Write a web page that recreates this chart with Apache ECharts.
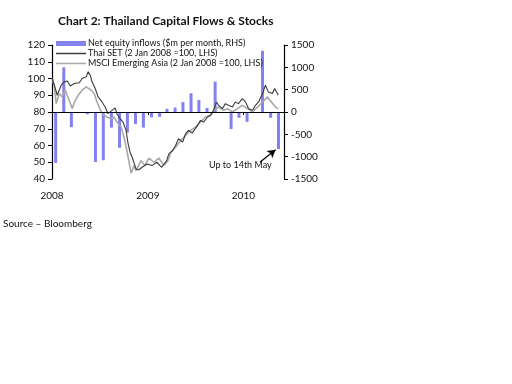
<!DOCTYPE html>
<html><head><meta charset="utf-8">
<script src="https://cdn.jsdelivr.net/npm/echarts@6/dist/echarts.min.js"></script>
<style>html,body{margin:0;padding:0;background:#fff}#c{width:512px;height:384px}</style>
</head><body><div id="c"></div>
<script>
// ---- data ----
var flowMonths = ['2008-01-15','2008-02-15','2008-03-15','2008-04-15','2008-05-15','2008-06-15','2008-07-15','2008-08-15','2008-09-15','2008-10-15','2008-11-15','2008-12-15',
  '2009-01-15','2009-02-15','2009-03-15','2009-04-15','2009-05-15','2009-06-15','2009-07-15','2009-08-15','2009-09-15','2009-10-15','2009-11-15','2009-12-15',
  '2010-01-15','2010-02-15','2010-03-15','2010-04-15','2010-05-15'];
var flowValues = [-1140,1000,-340,0,-50,-1120,-1080,-350,-800,-460,-270,-350,
  -120,-110,70,100,220,420,270,90,680,0,-380,-130,
  -220,0,1370,-130,-830];

var setDates = ['2008-01-02','2008-01-10','2008-01-21','2008-02-05','2008-02-17','2008-02-28','2008-03-11','2008-03-26','2008-04-14','2008-04-25','2008-05-11','2008-05-18','2008-05-26','2008-06-02','2008-06-14','2008-06-25','2008-07-10','2008-07-22','2008-08-02','2008-08-17','2008-08-29','2008-09-05','2008-09-17','2008-09-28','2008-10-10','2008-10-17','2008-10-25','2008-11-02','2008-11-17','2008-11-28','2008-12-10','2008-12-29',
  '2009-01-17','2009-02-04','2009-02-23','2009-03-14','2009-03-22','2009-04-06','2009-04-17','2009-04-28','2009-05-14','2009-05-25','2009-06-05','2009-06-20','2009-07-10','2009-07-21','2009-08-02','2009-08-17','2009-08-28','2009-09-09','2009-09-20','2009-09-28','2009-10-13','2009-10-24','2009-11-05','2009-11-20','2009-12-01','2009-12-13','2009-12-28',
  '2010-01-09','2010-01-21','2010-02-05','2010-02-16','2010-02-28','2010-03-15','2010-03-26','2010-04-06','2010-04-22','2010-04-30','2010-05-11','2010-05-14'];
var setValues = [100,96,90,96,98,98.5,95.5,97,97.5,100,101,104,102,98,94,89,86,83,79,81,82.5,79,76,74,69,61.5,56,53,46,45.5,47,49,
  48,50,47,51,55,57,60,64,62,67,69,67.5,72,75,74,77,78,81,86,84,82,85,84,83,86,85,88,
  86,82,81,84,86,91,96,92,91,94,91,90];

var msciDates = ['2008-01-02','2008-01-10','2008-01-17','2008-01-29','2008-02-09','2008-02-21','2008-02-28','2008-03-14','2008-03-18','2008-03-30','2008-04-10','2008-04-25','2008-05-11','2008-05-18','2008-05-30','2008-06-10','2008-06-21','2008-07-07','2008-07-18','2008-07-29','2008-08-14','2008-08-25','2008-09-05','2008-09-21','2008-10-02','2008-10-13','2008-10-29','2008-11-09','2008-11-17','2008-12-06','2008-12-21',
  '2009-01-05','2009-01-24','2009-02-12','2009-03-03','2009-03-19','2009-03-30','2009-04-17','2009-05-06','2009-05-25','2009-06-13','2009-07-02','2009-07-21','2009-08-09','2009-08-28','2009-09-12','2009-09-28','2009-10-17','2009-11-01','2009-11-20','2009-12-09','2009-12-28',
  '2010-01-17','2010-02-05','2010-02-24','2010-03-15','2010-04-03','2010-04-18','2010-05-03','2010-05-14'];
var msciValues = [100,95,85,91,89,93,90,84,82,87,90,93,95,96,93,91,86,80,78,77,76,77,74,71,65,57,43.5,48,45,51,48,
  52.5,50,52.5,48,51,56,59,63,66,69,71,74,77,78,81,83,81,82,80,82,84,
  82,80,83,86,89,86,83,82];

var yearTicks = ['2008-01-01','2009-01-01','2010-01-01'];

// ---- helpers ----
function ts(s){var p=s.split('-');return new Date(+p[0],+p[1]-1,+p[2]).getTime();}
function pairs(d,v){return d.map(function(x,i){return [ts(x),v[i]];});}

var FONT = 'Lato';
var LINE_ICON = 'path://M0,0H40V2H0Z';
var chart = echarts.init(document.getElementById('c'), null, {renderer:'canvas'});
chart.setOption({
  animation:false,
  backgroundColor:'#fff',
  title:{text:'Chart 2: Thailand Capital Flows & Stocks', left:53, top:10,
    textStyle:{fontFamily:FONT, fontWeight:'bold', fontSize:12, color:'#111'}},
  legend:{orient:'vertical', left:51, top:34, itemWidth:30, itemHeight:5, itemGap:1,
    textStyle:{fontFamily:FONT, fontSize:9, color:'#111', padding:[0,0,0,-3]},
    data:[{name:'Net equity inflows ($m per month, RHS)', icon:'rect'},
          {name:'Thai SET (2 Jan 2008 =100, LHS)', icon:LINE_ICON},
          {name:'MSCI Emerging Asia (2 Jan 2008 =100, LHS)', icon:LINE_ICON}]},
  grid:{left:52, right:228, top:45, bottom:205, containLabel:false},
  xAxis:{type:'value', min:ts('2008-01-01'), max:ts('2010-06-05'),
    axisLine:{lineStyle:{color:'#000', width:1.2}},
    axisTick:{length:3, lineStyle:{color:'#000'}, customValues:yearTicks.map(ts)},
    axisLabel:{customValues:yearTicks.map(ts), formatter:function(v){return String(new Date(v).getFullYear());},
      fontFamily:FONT, fontSize:10, color:'#111', margin:12},
    splitLine:{show:false}},
  yAxis:[
    {type:'value', min:40, max:120, interval:10, position:'left',
      axisLine:{show:true, lineStyle:{color:'#000', width:1.2}},
      axisTick:{show:true, length:4, lineStyle:{color:'#000'}},
      axisLabel:{fontFamily:FONT, fontSize:10, color:'#111', margin:7},
      splitLine:{show:false}},
    {type:'value', min:-1500, max:1500, interval:500, position:'right',
      axisLine:{show:true, lineStyle:{color:'#000', width:1.2}},
      axisTick:{show:true, length:4, lineStyle:{color:'#000'}},
      axisLabel:{fontFamily:FONT, fontSize:10, color:'#111', margin:7, formatter:function(v){return String(v);}},
      splitLine:{show:false}}
  ],
  series:[
    {name:'Net equity inflows ($m per month, RHS)', type:'bar', yAxisIndex:1, barWidth:3,
      itemStyle:{color:'#8282ee'}, data:pairs(flowMonths, flowValues), z:1,
      markLine:{silent:true, symbol:['none','none'], label:{show:false},
        lineStyle:{color:'#000', width:1.2, type:'solid'},
        data:[{yAxis:0}]}},
    {name:'MSCI Emerging Asia (2 Jan 2008 =100, LHS)', type:'line', yAxisIndex:0, symbol:'none',
      lineStyle:{color:'#a8a8a8', width:1.6}, itemStyle:{color:'#a8a8a8'}, data:pairs(msciDates, msciValues), z:3},
    {name:'Thai SET (2 Jan 2008 =100, LHS)', type:'line', yAxisIndex:0, symbol:'none',
      lineStyle:{color:'#3c3c3c', width:1.1}, itemStyle:{color:'#3c3c3c'}, data:pairs(setDates, setValues), z:4,
      markLine:{silent:true, symbol:['none','arrow'], symbolSize:[7,8], label:{show:false},
        lineStyle:{color:'#000', width:1.3, type:'solid'},
        data:[[{coord:[ts('2010-03-06'), 50.2]}, {coord:[ts('2010-05-04'), 57.5]}]]}}
  ],
  graphic:[
    {type:'text', left:209, top:161, style:{text:'Up to 14th May', fontFamily:FONT, fontSize:9, fill:'#111'}},
    {type:'text', left:3, top:219, style:{text:'Source \u2013 Bloomberg', fontFamily:FONT, fontSize:10, fill:'#111'}}
  ]
});
</script></body></html>
